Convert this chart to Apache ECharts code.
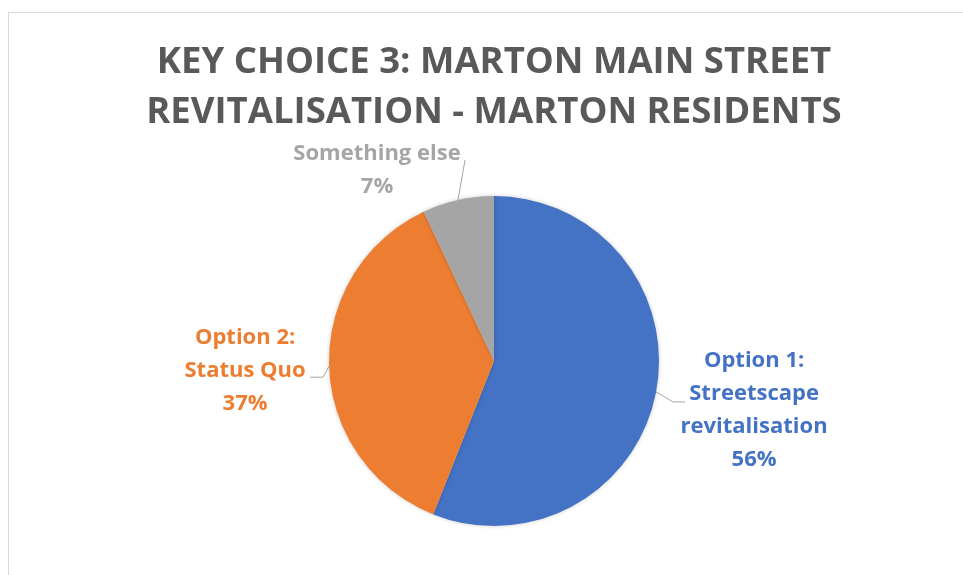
<!DOCTYPE html>
<html>
<head>
<meta charset="utf-8">
<title>Key choice 3 - Marton residents</title>
<script src="https://cdn.jsdelivr.net/npm/echarts@6/dist/echarts.min.js"></script>
<style>
  html, body { margin: 0; padding: 0; background: #fff; overflow: hidden; }
  #main { position: absolute; left: 8px; top: 12px; width: 972px; height: 600px; border: 1px solid #d9d9d9; box-sizing: border-box; }
</style>
</head>
<body>
<div id="main"></div>
<script>
const titleLines = ['KEY CHOICE 3: MARTON MAIN STREET', 'REVITALISATION - MARTON RESIDENTS']
const categories = ['Option 1:\nStreetscape\nrevitalisation', 'Option 2:\nStatus Quo', 'Something else']
const shares = [56, 37, 7]
const colors = ['#4472c4', '#ed7d31', '#a5a5a5']

// leader line bend, horizontal run and label centre offset (px), per slice
const leaders = [
  { bend: [17, 10], run: 12, text: [69, 8] },
  { bend: [-6, 11], run: -13, text: [-65, -6] },
  { bend: [7, -40], run: 0, text: [-88, 10] },
]

const font = "'Open Sans', 'Liberation Sans', sans-serif"

const chart = echarts.init(document.getElementById('main'))

chart.setOption({
  animation: false,
  title: {
    text: titleLines.join('\n'),
    left: 'center',
    top: 25,
    padding: 0,
    textStyle: {
      fontFamily: font,
      fontSize: 36.5,
      fontWeight: 'bold',
      lineHeight: 50,
      color: '#595959',
    },
  },
  series: [
    {
      type: 'pie',
      center: [485, 348],
      radius: 165,
      startAngle: 90,
      clockwise: true,
      avoidLabelOverlap: false,
      emphasis: { disabled: true },
      itemStyle: {
        shadowBlur: 4,
        shadowColor: 'rgba(0,0,0,0.2)',
      },
      label: {
        show: true,
        position: 'outside',
        fontFamily: font,
        fontSize: 22,
        fontWeight: 'bold',
        lineHeight: 33,
        formatter: p => p.name + '\n' + Math.round(p.percent) + '%',
      },
      labelLine: {
        show: true,
        length: 15,
        length2: 10,
        lineStyle: { color: '#a6a6a6', width: 1 },
      },
      labelLayout: function (p) {
        const l = leaders[p.dataIndex]
        const s = p.labelLinePoints[0]
        const b = [s[0] + l.bend[0], s[1] + l.bend[1]]
        const e = [b[0] + l.run, b[1]]
        return {
          x: e[0] + l.text[0],
          y: e[1] + l.text[1],
          align: 'center',
          verticalAlign: 'middle',
          labelLinePoints: [s, b, e],
        }
      },
      data: categories.map((name, i) => ({
        name: name,
        value: shares[i],
        itemStyle: { color: colors[i] },
        label: { color: colors[i] },
      })),
    },
  ],
})
</script>
</body>
</html>
